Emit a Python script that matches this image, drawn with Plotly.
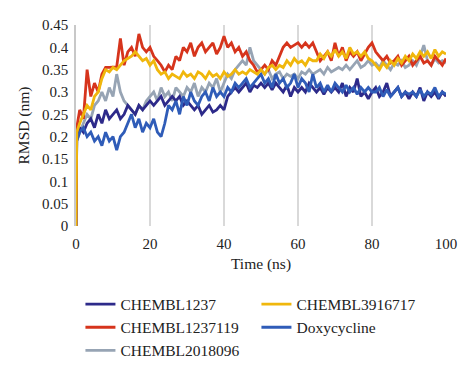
import plotly.graph_objects as go

time_ns = [0, 0.2] + list(range(1, 101))

chembl1237 = [0, 0.20,
    0.22, 0.21, 0.23, 0.24, 0.22, 0.25, 0.23, 0.26, 0.24, 0.25,
    0.26, 0.24, 0.25, 0.27, 0.26, 0.25, 0.27, 0.26, 0.27, 0.28,
    0.27, 0.28, 0.29, 0.27, 0.28, 0.29, 0.28, 0.29, 0.27, 0.28,
    0.27, 0.26, 0.27, 0.25, 0.26, 0.27, 0.255, 0.26, 0.27, 0.26,
    0.29, 0.30, 0.31, 0.30, 0.31, 0.32, 0.30, 0.315, 0.31, 0.32,
    0.31, 0.32, 0.305, 0.32, 0.31, 0.30, 0.315, 0.29, 0.31, 0.30,
    0.31, 0.30, 0.32, 0.31, 0.30, 0.31, 0.295, 0.31, 0.30, 0.31,
    0.30, 0.32, 0.29, 0.31, 0.30, 0.33, 0.29, 0.30, 0.285, 0.30,
    0.31, 0.29, 0.30, 0.32, 0.29, 0.30, 0.31, 0.29, 0.30, 0.285,
    0.30, 0.29, 0.31, 0.28, 0.30, 0.29, 0.30, 0.285, 0.30, 0.29]

chembl1237119 = [0, 0.22,
    0.26, 0.24, 0.35, 0.29, 0.32, 0.30, 0.34, 0.355, 0.355, 0.355,
    0.356, 0.42, 0.36, 0.39, 0.40, 0.38, 0.43, 0.40, 0.39, 0.40,
    0.38, 0.37, 0.36, 0.345, 0.36, 0.35, 0.38, 0.37, 0.40, 0.39,
    0.41, 0.38, 0.40, 0.41, 0.39, 0.40, 0.41, 0.385, 0.40, 0.425,
    0.40, 0.41, 0.39, 0.40, 0.38, 0.39, 0.37, 0.36, 0.345, 0.35,
    0.36, 0.35, 0.37, 0.36, 0.38, 0.40, 0.41, 0.40, 0.405, 0.41,
    0.40, 0.41, 0.40, 0.41, 0.39, 0.37, 0.38, 0.39, 0.37, 0.41,
    0.38, 0.40, 0.37, 0.39, 0.38, 0.39, 0.37, 0.385, 0.40, 0.41,
    0.39, 0.38, 0.37, 0.38, 0.365, 0.37, 0.38, 0.36, 0.37, 0.38,
    0.36, 0.37, 0.38, 0.365, 0.37, 0.36, 0.38, 0.37, 0.36, 0.375]

chembl2018096 = [0, 0.19,
    0.21, 0.23, 0.25, 0.24, 0.27, 0.28, 0.30, 0.28, 0.31, 0.29,
    0.34, 0.30, 0.28, 0.27, 0.26, 0.25, 0.27, 0.26, 0.28, 0.29,
    0.30, 0.28, 0.31, 0.29, 0.30, 0.28, 0.31, 0.30, 0.29, 0.31,
    0.30, 0.32, 0.29, 0.31, 0.30, 0.32, 0.31, 0.33, 0.30, 0.32,
    0.34, 0.33, 0.35, 0.36, 0.37, 0.36, 0.40, 0.37, 0.36, 0.35,
    0.34, 0.35, 0.33, 0.34, 0.345, 0.33, 0.34, 0.335, 0.34, 0.33,
    0.345, 0.34, 0.35, 0.34, 0.345, 0.35, 0.34, 0.355, 0.345, 0.35,
    0.355, 0.35, 0.36, 0.35, 0.36, 0.37, 0.355, 0.36, 0.37, 0.36,
    0.365, 0.355, 0.37, 0.36, 0.35, 0.365, 0.36, 0.37, 0.355, 0.36,
    0.37, 0.36, 0.38, 0.405, 0.37, 0.36, 0.375, 0.365, 0.37, 0.365]

chembl3916717 = [0, 0.21,
    0.23, 0.25, 0.27, 0.26, 0.29, 0.30, 0.33, 0.35, 0.345, 0.355,
    0.35, 0.36, 0.37, 0.375, 0.38, 0.39, 0.38, 0.37, 0.375, 0.36,
    0.37, 0.35, 0.34, 0.345, 0.33, 0.34, 0.335, 0.33, 0.345, 0.335,
    0.34, 0.33, 0.345, 0.34, 0.33, 0.345, 0.335, 0.34, 0.33, 0.345,
    0.335, 0.34, 0.35, 0.34, 0.345, 0.34, 0.35, 0.345, 0.34, 0.35,
    0.34, 0.355, 0.36, 0.35, 0.36, 0.355, 0.37, 0.36, 0.375, 0.365,
    0.37, 0.36, 0.375, 0.37, 0.37, 0.385, 0.375, 0.39, 0.38, 0.395,
    0.38, 0.39, 0.375, 0.40, 0.385, 0.39, 0.38, 0.39, 0.375, 0.37,
    0.36, 0.35, 0.365, 0.355, 0.37, 0.36, 0.375, 0.365, 0.38, 0.37,
    0.385, 0.375, 0.39, 0.38, 0.39, 0.375, 0.395, 0.38, 0.39, 0.385]

doxycycline = [0, 0.19,
    0.21, 0.22, 0.20, 0.21, 0.19, 0.20, 0.18, 0.21, 0.19, 0.20,
    0.17, 0.20, 0.21, 0.23, 0.25, 0.22, 0.24, 0.21, 0.23, 0.22,
    0.24, 0.21, 0.20, 0.23, 0.27, 0.26, 0.28, 0.25, 0.29, 0.27,
    0.30, 0.28, 0.27, 0.29, 0.30, 0.28, 0.31, 0.29, 0.30, 0.29,
    0.31, 0.30, 0.32, 0.31, 0.32, 0.33, 0.31, 0.32, 0.33, 0.34,
    0.32, 0.33, 0.31, 0.34, 0.32, 0.33, 0.31, 0.32, 0.34, 0.31,
    0.33, 0.32, 0.30, 0.34, 0.31, 0.32, 0.30, 0.315, 0.30, 0.32,
    0.31, 0.30, 0.315, 0.30, 0.31, 0.295, 0.31, 0.30, 0.31, 0.30,
    0.30, 0.31, 0.29, 0.305, 0.29, 0.30, 0.31, 0.29, 0.30, 0.295,
    0.30, 0.29, 0.305, 0.29, 0.30, 0.295, 0.31, 0.29, 0.30, 0.295]

x_ticks = [0, 20, 40, 60, 80, 100]
y_ticks = [0, 0.05, 0.1, 0.15, 0.2, 0.25, 0.3, 0.35, 0.4, 0.45]
y_tick_text = ["0", "0.05", "0.1", "0.15", "0.2", "0.25", "0.3", "0.35", "0.4", "0.45"]

# (name, values, color, legend rank) in drawing order
series = [
    ("CHEMBL2018096", chembl2018096, "#97a4b4", 5),
    ("CHEMBL1237", chembl1237, "#2d2a8a", 1),
    ("Doxycycline", doxycycline, "#2f5cb8", 4),
    ("CHEMBL1237119", chembl1237119, "#d6341c", 3),
    ("CHEMBL3916717", chembl3916717, "#f0b70c", 2),
]

FONT = "Liberation Serif"

fig = go.Figure()
for name, vals, color, rank in series:
    fig.add_trace(go.Scatter(
        x=time_ns, y=vals, mode="lines", name=name,
        line=dict(color=color, width=2.8), legendrank=rank,
    ))

# page body adds an 8px offset, so the figure is 8px smaller than the window
fig.update_layout(
    width=466, height=371,
    margin=dict(l=68, r=28, t=17, b=151),
    paper_bgcolor="white", plot_bgcolor="white",
    font=dict(family=FONT, size=15, color="#222222"),
    showlegend=True,
    legend=dict(
        orientation="h", x=0.012, xanchor="left", y=-0.306, yanchor="top",
        entrywidth=131, entrywidthmode="pixels",
        font=dict(family=FONT, size=15.5, color="#222222"),
        itemwidth=30, traceorder="normal",
    ),
)
fig.update_xaxes(
    range=[0, 100], tickvals=x_ticks, showgrid=True, gridcolor="#d9d9d9",
    gridwidth=1.5, zeroline=False, showline=False,
    ticks="outside", ticklen=4, tickcolor="rgba(0,0,0,0)", automargin=False,
    title=dict(text="Time (ns)", font=dict(family=FONT, size=15.5), standoff=7),
    tickfont=dict(family=FONT, size=15),
)
fig.update_yaxes(
    range=[0, 0.45], tickvals=y_ticks, ticktext=y_tick_text, showgrid=False,
    zeroline=False, showline=True, linecolor="#c8c8c8", linewidth=1.5,
    ticks="outside", ticklen=3, tickcolor="rgba(0,0,0,0)", automargin=False,
    title=dict(text="RMSD (nm)", font=dict(family=FONT, size=15.5), standoff=9),
    tickfont=dict(family=FONT, size=15),
)

fig.write_html("out.html")
